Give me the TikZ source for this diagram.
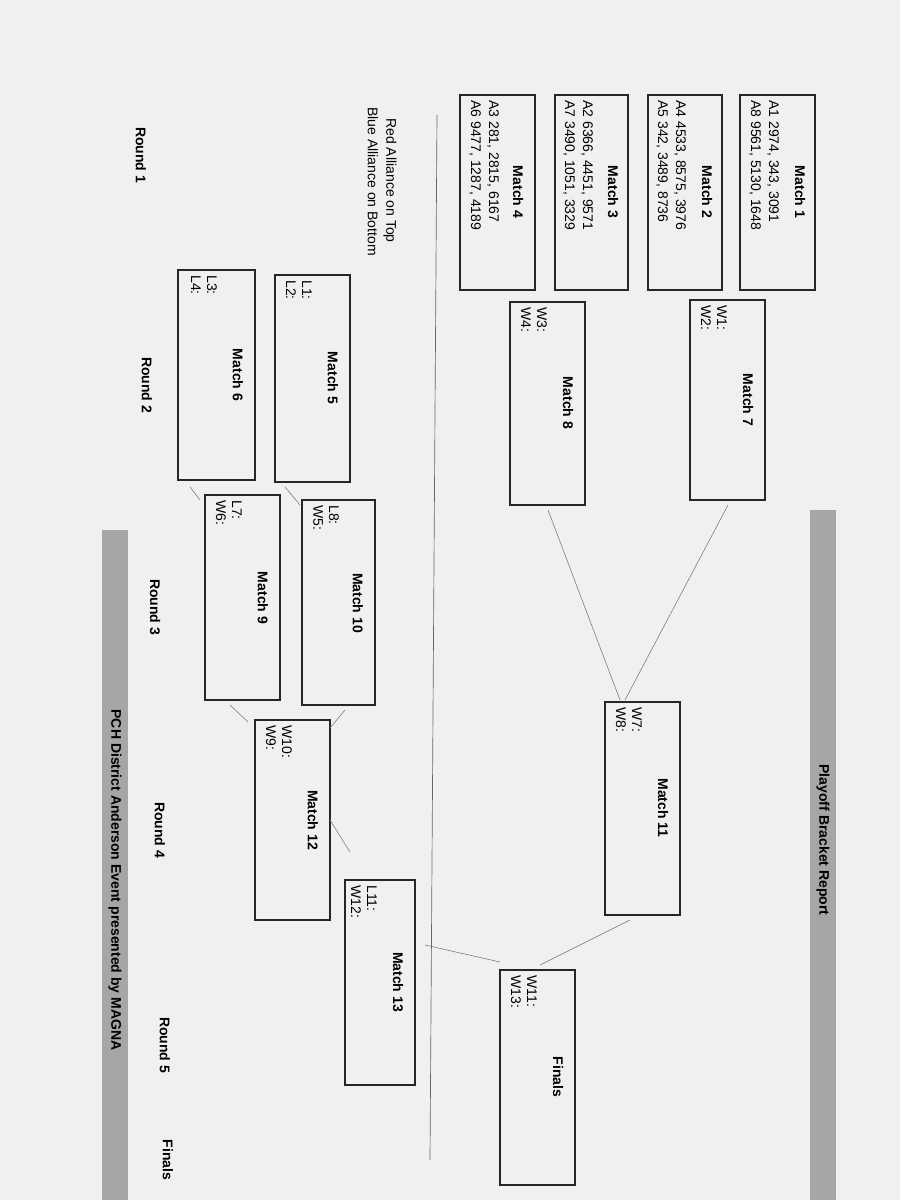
\documentclass[tikz,border=0pt]{standalone}
\usepackage{fontspec}
\setmainfont{Liberation Sans}
\begin{document}
\begin{tikzpicture}[x=0.75pt,y=-0.75pt,
  mbox/.style={draw=black!85,line width=0.8pt},
  tl/.style={rotate=-90,anchor=center,font=\bfseries\fontsize{10.5}{12}\selectfont},
  tx/.style={rotate=-90,anchor=west,inner sep=0pt,font=\fontsize{10.5}{12}\selectfont},
  conn/.style={draw=black!55,line width=0.4pt}]
\fill[black!6] (0,0) rectangle (900,1200);
\useasboundingbox (0,0) rectangle (900,1200);
% grey bars
\fill[black!35] (810,510) rectangle (836,1200);
\node[tl] (title) at (823,840) {Playoff Bracket Report};
\fill[black!35] (102,530) rectangle (128,1200);
\node[tl] (foot) at (115,880) {PCH District Anderson Event presented by MAGNA};
\draw[black!60,line width=0.5pt] (437,115) -- (430,1160);
% Round 1
\draw[mbox] (740,95) rectangle (815,290) coordinate (m1);
\node[tl] at (800,192) {Match 1};
\node[tx] at (773,100) {A1 2974, 343, 3091};
\node[tx] at (755,100) {A8 9561, 5130, 1648};
\draw[mbox] (648,95) rectangle (722,290);
\node[tl] at (707,192) {Match 2};
\node[tx] at (680,100) {A4 4533, 8575, 3976};
\node[tx] at (662,100) {A5 342, 3489, 8736};
\draw[mbox] (555,95) rectangle (628,290);
\node[tl] at (613,192) {Match 3};
\node[tx] at (587,100) {A2 6366, 4451, 9571};
\node[tx] at (569,100) {A7 3490, 1051, 3329};
\draw[mbox] (460,95) rectangle (535,290);
\node[tl] at (518,192) {Match 4};
\node[tx] at (493,100) {A3 281, 2815, 6167};
\node[tx] at (475,100) {A6 9477, 1287, 4189};
\node[tx] (red) at (390,118) {Red Alliance on Top};
\node[tx] (blue) at (373,107) {Blue Alliance on Bottom};
% Round 2
\draw[mbox] (690,300) rectangle (765,500);
\node[tl] at (748,400) {Match 7};
\node[tx] at (722,305) {W1:};
\node[tx] at (706,305) {W2:};
\draw[mbox] (510,302) rectangle (585,505);
\node[tl] at (568,403) {Match 8};
\node[tx] at (542,307) {W3:};
\node[tx] at (526,307) {W4:};
\draw[mbox] (275,275) rectangle (350,482);
\node[tl] at (333,378) {Match 5};
\node[tx] at (307,280) {L1:};
\node[tx] at (291,280) {L2:};
\draw[mbox] (178,270) rectangle (255,480);
\node[tl] at (238,375) {Match 6};
\node[tx] at (212,275) {L3:};
\node[tx] at (196,275) {L4:};
% Round 3
\draw[mbox] (302,500) rectangle (375,705);
\node[tl] at (358,603) {Match 10};
\node[tx] at (334,505) {L8:};
\node[tx] at (318,505) {W5:};
\draw[mbox] (205,495) rectangle (280,700);
\node[tl] at (263,598) {Match 9};
\node[tx] at (237,500) {L7:};
\node[tx] at (221,500) {W6:};
% Round 4
\draw[mbox] (605,702) rectangle (680,915);
\node[tl] at (663,808) {Match 11};
\node[tx] at (637,707) {W7:};
\node[tx] at (621,707) {W8:};
\draw[mbox] (255,720) rectangle (330,920);
\node[tl] at (313,820) {Match 12};
\node[tx] at (287,725) {W10:};
\node[tx] at (271,725) {W9:};
% Round 5
\draw[mbox] (345,880) rectangle (415,1085);
\node[tl] at (398,982) {Match 13};
\node[tx] at (372,885) {L11:};
\node[tx] at (356,885) {W12:};
\draw[mbox] (500,970) rectangle (575,1185);
\node[tl] at (558,1077) {Finals};
\node[tx] at (532,975) {W11:};
\node[tx] at (516,975) {W13:};
% connectors
\draw[conn] (728,505) -- (625,700);
\draw[conn] (548,510) -- (620,700);
\draw[conn] (630,920) -- (540,965);
\draw[conn] (425,945) -- (500,962);
\draw[conn] (345,710) -- (330,728);
\draw[conn] (230,705) -- (248,722);
\draw[conn] (285,487) -- (300,505);
\draw[conn] (190,487) -- (200,500);
\draw[conn] (330,820) -- (350,852);
% round labels
\node[tl] at (141,155) {Round 1};
\node[tl] at (147,385) {Round 2};
\node[tl] at (155,607) {Round 3};
\node[tl] at (160,830) {Round 4};
\node[tl] at (165,1045) {Round 5};
\node[tl] at (168,1160) {Finals};
\end{tikzpicture}
\end{document}
